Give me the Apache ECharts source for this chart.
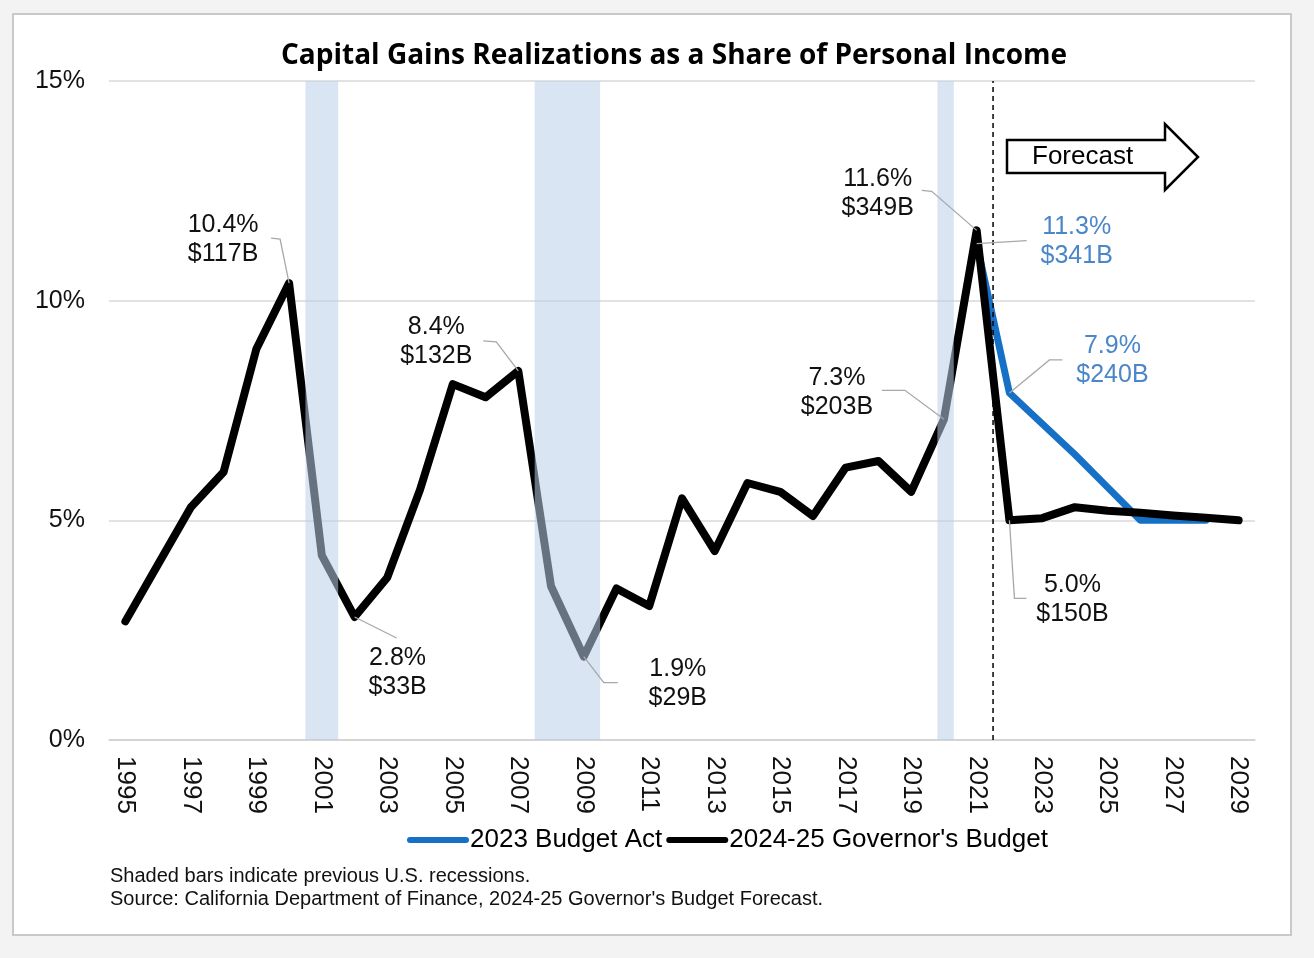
<!doctype html>
<html lang="en">
<head>
    <meta charset="UTF-8">
    <title>Capital Gains Realizations as a Share of Personal Income</title>
    <script src="https://cdn.jsdelivr.net/npm/echarts@6/dist/echarts.min.js"></script>
    <style>
        html, body { margin: 0; padding: 0; background: #f3f3f3; }
        #main { width: 1314px; height: 958px; }
    </style>
</head>
<body>
<div id="main"></div>
<script>
    // years on the x axis
    var years = [];
    for (var y = 1995; y <= 2029; y++) years.push(String(y));

    // 2024-25 Governor's Budget, % of personal income
    var governorsBudget = [
        2.7, 4.0, 5.3, 6.1, 8.9, 10.4, 4.2, 2.8, 3.7, 5.7,
        8.1, 7.8, 8.4, 3.5, 1.9, 3.45, 3.05, 5.5, 4.3, 5.85,
        5.65, 5.1, 6.2, 6.35, 5.65, 7.3, 11.6, 5.0, 5.05, 5.3,
        5.22, 5.17, 5.11, 5.06, 5.0
    ];

    // 2023 Budget Act (only from 2021 on)
    var budgetAct = [
        null, null, null, null, null, null, null, null, null, null,
        null, null, null, null, null, null, null, null, null, null,
        null, null, null, null, null, null, 11.3, 7.9, 7.2, 6.5,
        5.75, 5.0, 5.0, 5.0, null
    ];

    // recession spans (fractional years, hidden value axis)
    var recessions = [[2000.5, 2001.5], [2007.5, 2009.5], [2019.8, 2020.3]];
    var forecastStart = 2021.5;

    var yTicks = [0, 5, 10, 15];

    // callouts: series, year, text, text offset and leader bends (px from point)
    var notes = [
        {s: 'gov', year: 2000, text: '10.4%\n$117B', t: [-66, -43], path: [[-9, -44], [-18, -45]]},
        {s: 'gov', year: 2007, text: '8.4%\n$132B', t: [-82, -29], path: [[-22, -29], [-35, -30]]},
        {s: 'gov', year: 2002, text: '2.8%\n$33B', t: [43, 56], path: [[42, 21]]},
        {s: 'gov', year: 2009, text: '1.9%\n$29B', t: [94, 27], path: [[20, 26], [34, 26]]},
        {s: 'gov', year: 2020, text: '7.3%\n$203B', t: [-107, -27], path: [[-39, -29], [-62, -29]]},
        {s: 'gov', year: 2021, text: '11.6%\n$349B', t: [-99, -37], path: [[-45, -39], [-55, -40]]},
        {s: 'act', year: 2021, text: '11.3%\n$341B', t: [100, -2], path: [[50, -3]]},
        {s: 'act', year: 2022, text: '7.9%\n$240B', t: [103, -32], path: [[40, -33], [53, -33]]},
        {s: 'gov', year: 2022, text: '5.0%\n$150B', t: [63, 79], path: [[5, 78], [17, 78]]}
    ];

    var FONT = 'Liberation Sans, Arial, sans-serif';
    var blue = '#1570c6';
    var blueText = '#4a86c8';

    var myChart = echarts.init(document.getElementById('main'));

    var frame = [
        {
            type: 'rect', z: -10, silent: true,
            shape: {x: 13, y: 14, width: 1278, height: 921},
            style: {fill: '#fff', stroke: '#c9c9c9', lineWidth: 2}
        },
        {
            type: 'polygon', z: 50,
            shape: {points: [[1007, 140], [1165, 140], [1165, 124], [1198, 157], [1165, 190], [1165, 173], [1007, 173]]},
            style: {fill: '#fff', stroke: '#000', lineWidth: 2.5}
        },
        {
            type: 'text', z: 51, x: 1032, y: 157,
            style: {text: 'Forecast', fontSize: 26, fontFamily: FONT, fill: '#000',
                verticalAlign: 'middle', textVerticalAlign: 'middle'}
        },
        {
            type: 'text', z: 51, x: 110, y: 865,
            style: {
                text: 'Shaded bars indicate previous U.S. recessions.\nSource: California Department of Finance, 2024-25 Governor\'s Budget Forecast.',
                fontSize: 20, lineHeight: 23, fontFamily: FONT, fill: '#111'
            }
        }
    ];

    var option = {
        backgroundColor: '#f3f3f3',
        animation: false,
        title: {
            text: 'Capital Gains Realizations as a Share of Personal Income',
            left: 276,
            top: 37,
            textStyle: {fontFamily: '"Open Sans", sans-serif', fontWeight: 'bold', fontSize: 28, color: '#000'}
        },
        legend: {
            left: 402,
            top: 822,
            itemGap: 4,
            itemWidth: 62,
            itemHeight: 7,
            icon: 'path://M3,0 H59 A3,3 0 0 1 59,6 H3 A3,3 0 0 1 3,0 Z',
            textStyle: {fontFamily: FONT, fontSize: 26, color: '#000', padding: [0, 0, 0, -4]},
            data: ['2023 Budget Act', '2024-25 Governor\'s Budget']
        },
        grid: {left: 109, right: 59, top: 81, bottom: 218},
        xAxis: [
            {
                type: 'category',
                data: years,
                boundaryGap: true,
                axisLine: {lineStyle: {color: '#d0d0d0', width: 1.5}},
                axisTick: {interval: 0, length: 7, lineStyle: {color: '#d0d0d0', width: 1.5}},
                axisLabel: {interval: 1, rotate: -90, margin: 16, fontFamily: FONT, fontSize: 26, color: '#111'}
            },
            {
                type: 'value', min: 1994.5, max: 2029.5, show: false
            }
        ],
        yAxis: {
            type: 'value',
            min: yTicks[0],
            max: yTicks[yTicks.length - 1],
            interval: 5,
            axisLine: {show: false},
            axisTick: {show: false},
            axisLabel: {formatter: '{value}%', margin: 24, fontFamily: FONT, fontSize: 25, color: '#111'},
            splitLine: {lineStyle: {color: '#d9d9d9', width: 1.5}}
        },
        series: [
            {
                name: '2023 Budget Act',
                type: 'line',
                data: budgetAct,
                showSymbol: false,
                symbol: 'none',
                z: 2,
                lineStyle: {color: blue, width: 7, cap: 'round', join: 'round'},
                itemStyle: {color: blue}
            },
            {
                name: '2024-25 Governor\'s Budget',
                type: 'line',
                data: governorsBudget,
                showSymbol: false,
                symbol: 'none',
                z: 3,
                lineStyle: {color: '#000', width: 8, cap: 'round', join: 'round'},
                itemStyle: {color: '#000'}
            },
            {
                name: 'recessions',
                type: 'custom',
                xAxisIndex: 1,
                z: 6,
                silent: true,
                data: recessions,
                renderItem: function (params, api) {
                    var a = api.coord([api.value(0), yTicks[yTicks.length - 1]]);
                    var b = api.coord([api.value(1), yTicks[0]]);
                    return {
                        type: 'rect',
                        shape: {x: a[0], y: a[1], width: b[0] - a[0], height: b[1] - a[1]},
                        style: {fill: 'rgba(186,208,232,0.55)'}
                    };
                }
            },
            {
                name: 'forecast',
                type: 'line',
                xAxisIndex: 1,
                silent: true,
                symbol: 'none',
                z: 7,
                data: [[forecastStart, yTicks[0]], [forecastStart, yTicks[yTicks.length - 1]]],
                lineStyle: {color: '#000', width: 1.5, type: [5, 4]}
            }
        ],
        graphic: frame
    };

    myChart.setOption(option);

    // callout labels and leader lines tied to the data points
    var els = [];
    notes.forEach(function (n) {
        var idx = years.indexOf(String(n.year));
        var isAct = n.s === 'act';
        var v = isAct ? budgetAct[idx] : governorsBudget[idx];
        var p = myChart.convertToPixel({seriesIndex: isAct ? 0 : 1}, [idx, v]);
        var pts = [p].concat(n.path.map(function (o) { return [p[0] + o[0], p[1] + o[1]]; }));
        els.push({
            type: 'polyline', z: 40, silent: true,
            shape: {points: pts},
            style: {stroke: '#a8a8a8', lineWidth: 1.3, fill: null}
        });
        els.push({
            type: 'text', z: 41, x: p[0] + n.t[0], y: p[1] + n.t[1],
            style: {
                text: n.text, fontSize: 25, lineHeight: 29, fontFamily: FONT,
                fill: isAct ? blueText : '#111',
                align: 'center', verticalAlign: 'middle',
                textAlign: 'center', textVerticalAlign: 'middle'
            }
        });
    });
    myChart.setOption({graphic: frame.concat(els)});
</script>
</body>
</html>
